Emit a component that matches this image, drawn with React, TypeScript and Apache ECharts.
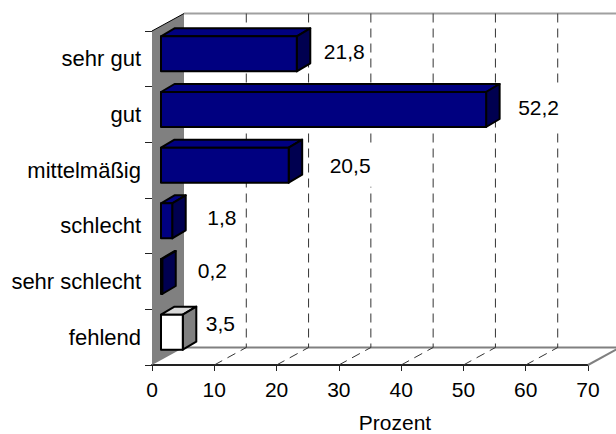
import React, { useEffect, useRef } from "react";
import * as echarts from "echarts";

const categories = ["sehr gut", "gut", "mittelmäßig", "schlecht", "sehr schlecht", "fehlend"];
const values = [21.8, 52.2, 20.5, 1.8, 0.2, 3.5];
const valueLabels = ["21,8", "52,2", "20,5", "1,8", "0,2", "3,5"];
const xTicks = [0, 10, 20, 30, 40, 50, 60, 70];

const FONT = "'Liberation Sans', Arial, sans-serif";
const FS = 21;
const labelPlacement = [[32, -7], [37, -7.5], [46, -5], [40, -8], [40.5, -11.5], [28, -14]];

const DX = 32, DY = 17.5; // depth of the 3D box
const BX = 9, BY = 5, BAR_DX = 13.5, BAR_DY = 8, BAR_H = 35;

function renderFrame(params: any, api: any) {
  const v = api.value(0);
  const cs = params.coordSys;
  const top = cs.y, bottom = cs.y + cs.height;
  const x = api.coord([v, 0])[0];
  const bx = x + DX;
  const children: any[] = [];
  const grey = "#808080";
  if (v === 0) {
    children.push({
      type: "polygon",
      shape: { points: [[x, top], [bx, top - DY], [bx, bottom - DY], [x, bottom]] },
      style: { fill: grey },
    });
    children.push({
      type: "line",
      shape: { x1: x, y1: top, x2: bx, y2: top - DY },
      style: { stroke: "#000", lineWidth: 1 },
    });
    const right = cs.x + cs.width + DX;
    children.push({
      type: "line",
      shape: { x1: bx, y1: top - DY, x2: right, y2: top - DY },
      style: { stroke: "#a0a0a0", lineWidth: 2 },
    });
    children.push({
      type: "line",
      shape: { x1: bx, y1: bottom - DY, x2: right, y2: bottom - DY },
      style: { stroke: grey, lineWidth: 2 },
    });
  } else {
    children.push({
      type: "line",
      shape: { x1: bx, y1: top - DY, x2: bx, y2: bottom - DY },
      style: { stroke: "#333", lineWidth: 1, lineDash: [9, 6] },
    });
    const last = v === xTicks[xTicks.length - 1];
    children.push({
      type: "line",
      shape: { x1: x, y1: bottom, x2: bx, y2: bottom - DY },
      style: last
        ? { stroke: grey, lineWidth: 2 }
        : { stroke: "#333", lineWidth: 1, lineDash: [9, 6] },
    });
  }
  return { type: "group", children };
}

function renderBar(params: any, api: any) {
  const i = params.dataIndex;
  const v = api.value(0);
  const start = api.coord([0, i]);
  const end = api.coord([v, i]);
  const x0 = start[0] + BX;
  const x1 = end[0] + BX;
  const y0 = start[1] - BY - BAR_H / 2;
  const y1 = y0 + BAR_H;
  const none = categories[i] === "fehlend";
  const front = none ? "#ffffff" : "#000080";
  const topFill = none ? "#d8d8d8" : "#000080";
  const side = none ? "#808080" : "#000050";
  const outline = { stroke: "#000", lineWidth: 2, lineJoin: "round" };
  return {
    type: "group",
    children: [
      {
        type: "polygon",
        shape: { points: [[x0, y0], [x0 + BAR_DX, y0 - BAR_DY], [x1 + BAR_DX, y0 - BAR_DY], [x1, y0]] },
        style: { fill: topFill, ...outline },
      },
      {
        type: "polygon",
        shape: { points: [[x1, y0], [x1 + BAR_DX, y0 - BAR_DY], [x1 + BAR_DX, y1 - BAR_DY], [x1, y1]] },
        style: { fill: side, ...outline },
      },
      {
        type: "rect",
        shape: { x: x0, y: y0, width: x1 - x0, height: BAR_H },
        style: { fill: front, ...outline },
      },
    ],
  };
}

function renderLabel(params: any, api: any) {
  const i = params.dataIndex;
  const end = api.coord([api.value(0), i]);
  const [ox, oy] = labelPlacement[i];
  return {
    type: "text",
    x: end[0] + ox,
    y: end[1] + oy,
    style: {
      text: valueLabels[i],
      font: `${FS}px ${FONT}`,
      fill: "#000",
      align: "left",
      verticalAlign: "middle",
      backgroundColor: "#fff",
      padding: [11, 4],
    },
  };
}

export default function App() {
  const ref = useRef<HTMLDivElement>(null);
  useEffect(() => {
    const chart = echarts.init(ref.current!, undefined, { renderer: "svg" });
    chart.setOption({
      animation: false,
      backgroundColor: "#fff",
      grid: { left: 152, width: 436, top: 31, height: 334, containLabel: false, outerBoundsMode: "none" },
      xAxis: {
        type: "value",
        min: 0,
        max: 70,
        interval: 10,
        axisLine: { show: true, lineStyle: { color: "#222", width: 2 } },
        axisTick: { show: true, length: 6, lineStyle: { color: "#222", width: 1 } },
        axisLabel: { color: "#000", fontFamily: FONT, fontSize: FS, margin: 14 },
        splitLine: { show: false },
        name: "Prozent",
        nameLocation: "middle",
        nameGap: 47,
        nameTextStyle: { color: "#000", fontFamily: FONT, fontSize: FS, padding: [0, 0, 0, 50] },
      },
      yAxis: {
        type: "category",
        inverse: true,
        data: categories,
        axisLine: { show: true, lineStyle: { color: "#555", width: 1 } },
        axisTick: { show: true, length: 7, alignWithLabel: false, lineStyle: { color: "#222" } },
        axisLabel: { color: "#000", fontFamily: FONT, fontSize: 22, margin: 11 },
        splitLine: { show: false },
      },
      series: [
        { type: "custom", renderItem: renderFrame, data: xTicks.map((t) => [t]), encode: { x: 0 }, z: 1, silent: true, clip: false },
        { type: "custom", renderItem: renderLabel, data: values.map((v, i) => [v, i]), encode: { x: 0, y: 1 }, z: 2, silent: true, clip: false },
        { type: "custom", renderItem: renderBar, data: values.map((v, i) => [v, i]), encode: { x: 0, y: 1 }, z: 3, silent: true, clip: false },
      ],
    });
    return () => chart.dispose();
  }, []);
  return <div ref={ref} style={{ width: 616, height: 434, position: "fixed", left: 0, top: 0 }} />;
}
